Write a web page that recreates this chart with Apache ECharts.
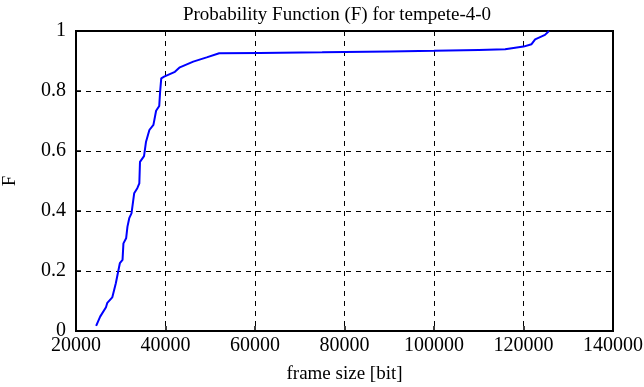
<!DOCTYPE html>
<html><head><meta charset="utf-8">
<script src="https://cdn.jsdelivr.net/npm/echarts@6/dist/echarts.min.js"></script>
<style>html,body{margin:0;padding:0;background:#fff}#c{width:644px;height:387px}</style>
</head><body><div id="c"></div>
<script>
const titleText = "Probability Function (F) for tempete-4-0";
const xName = "frame size [bit]";
const yName = "F";
const frameSize = [24500, 25400, 26700, 27000, 28100, 28900, 29450, 29800, 30400, 30600, 31200, 31500, 31900, 32400, 33000, 33700, 34150, 34300, 35200, 35650, 36400, 37300, 37900, 38600, 38800, 39050, 39700, 42100, 43200, 46200, 49200, 52000, 61000, 75000, 90000, 100000, 110000, 115900, 120000, 121800, 122600, 124800, 125700];
const probF = [0.017, 0.048, 0.079, 0.094, 0.112, 0.159, 0.2, 0.226, 0.237, 0.292, 0.309, 0.348, 0.376, 0.392, 0.459, 0.476, 0.492, 0.564, 0.583, 0.631, 0.67, 0.687, 0.734, 0.75, 0.798, 0.842, 0.848, 0.864, 0.879, 0.898, 0.912, 0.926, 0.927, 0.929, 0.932, 0.934, 0.937, 0.939, 0.948, 0.956, 0.972, 0.987, 1.0];
const xTicks = {min: 20000, max: 140000, step: 20000};
const yTicks = {min: 0, max: 1, step: 0.2};

const font = "'Liberation Serif', 'DejaVu Serif', serif";
const chart = echarts.init(document.getElementById('c'), null, {renderer: 'canvas'});
const dashed = {show: true, lineStyle: {color: '#000', type: [5, 5], width: 1}};
chart.setOption({
  animation: false,
  title: {text: titleText, left: 332, textAlign: 'center', top: 1,
    textStyle: {fontFamily: font, fontWeight: 'normal', fontSize: 19, color: '#000'}},
  grid: {left: 76, right: 31, top: 31, bottom: 56, show: true, borderColor: '#000', borderWidth: 2,
    containLabel: false, outerBoundsMode: 'none'},
  xAxis: {type: 'value', min: xTicks.min, max: xTicks.max, interval: xTicks.step,
    name: xName, nameLocation: 'middle', nameGap: 34,
    nameTextStyle: {fontFamily: font, fontSize: 19, color: '#000'},
    axisLine: {show: true, lineStyle: {color: '#000', width: 2}},
    axisTick: {show: true, inside: true, length: 5, lineStyle: {color: '#000', width: 1.5}},
    axisLabel: {fontFamily: font, fontSize: 20, color: '#000', margin: 5, formatter: v => String(v)},
    splitLine: dashed},
  yAxis: {type: 'value', min: yTicks.min, max: yTicks.max, interval: yTicks.step,
    name: yName, nameLocation: 'middle', nameGap: 56,
    nameTextStyle: {fontFamily: font, fontSize: 19, color: '#000'},
    axisLine: {show: true, lineStyle: {color: '#000', width: 2}},
    axisTick: {show: true, inside: true, length: 5, lineStyle: {color: '#000', width: 1.5}},
    axisLabel: {fontFamily: font, fontSize: 20, color: '#000', margin: 10, formatter: v => String(v)},
    splitLine: dashed},
  series: [{type: 'line', data: frameSize.map((x, i) => [x, probF[i]]),
    showSymbol: false, symbol: 'none', lineStyle: {color: '#0000ff', width: 2}, z: 5}]
});
</script></body></html>
